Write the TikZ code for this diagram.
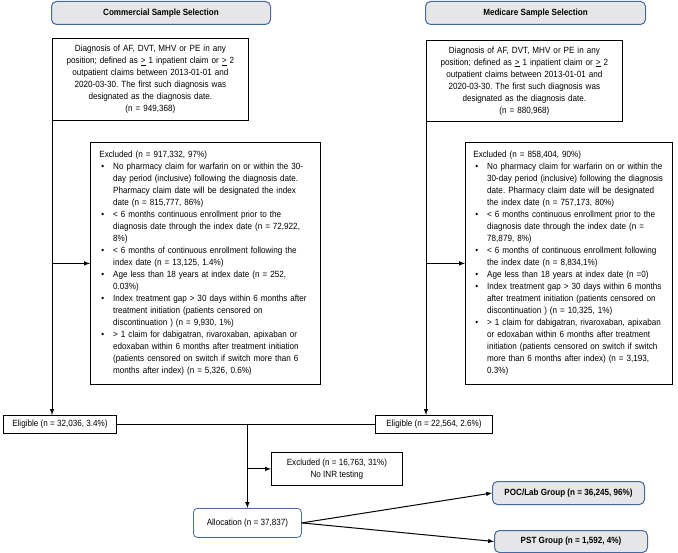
\documentclass[tikz,border=0pt]{standalone}
\usepackage{fontspec}
\setmainfont{Liberation Sans}[FakeStretch=0.9]
\usepackage{tikz}
\usetikzlibrary{positioning}

\definecolor{hdrblue}{RGB}{68,104,160}
\definecolor{hdrgray}{RGB}{230,230,232}

\newcommand{\bul}{\hspace*{2pt}\textbullet}
\frenchspacing

\begin{document}
\begin{tikzpicture}[
            x = 1pt, y = -1pt,
            >=latex,
            every node/.style = {
                font = \fontsize{9}{12}\selectfont,
                anchor = north west
            },
            hdr/.style = {
                draw = hdrblue,
                fill = hdrgray,
                line width = 1pt,
                rounded corners = 5pt,
                font = \fontsize{9}{12}\selectfont\bfseries,
                minimum width = #1,
                minimum height = 23pt,
                inner sep = 0pt
            },
            hdr/.default = 219pt,
            box/.style = {
                draw,
                line width = 0.8pt,
                inner sep = 0pt
            },
            flow/.style = {
                line width = 1pt
            }
            ]
            % headers
            \node[hdr] (ch) at (51,1) {Commercial Sample Selection};
            \node[hdr=220pt] (mh) at (425,1) {Medicare Sample Selection};

            % diagnosis boxes
            \node[box, text width=196pt, minimum height=82pt, align=center] (cd) at (52,38)
                {Diagnosis of AF, DVT, MHV or PE in any\\
                 position; defined as \underline{>} 1 inpatient claim or \underline{>} 2\\
                 outpatient claims between 2013-01-01 and\\
                 2020-03-30. The first such diagnosis was\\
                 designated as the diagnosis date.\\
                 (n = 949,368)};
            \node[box, text width=196pt, minimum height=81pt, align=center] (md) at (426,40)
                {Diagnosis of AF, DVT, MHV or PE in any\\
                 position; defined as \underline{>} 1 inpatient claim or \underline{>} 2\\
                 outpatient claims between 2013-01-01 and\\
                 2020-03-30. The first such diagnosis was\\
                 designated as the diagnosis date.\\
                 (n = 880,968)};

            % exclusion boxes
            \node[box, inner xsep=9pt, text width=212pt, minimum height=242pt, align=left] (ce) at (90,142)
                {\begin{tabular}{@{}l@{\hspace{9pt}}l@{}}
                 \multicolumn{2}{@{}l@{}}{Excluded (n = 917,332, 97\%)}\\
                 \bul & No pharmacy claim for warfarin on or within the 30-\\
                      & day period (inclusive) following the diagnosis date.\\
                      & Pharmacy claim date will be designated the index\\
                      & date (n = 815,777, 86\%)\\
                 \bul & < 6 months continuous enrollment prior to the\\
                      & diagnosis date through the index date (n = 72,922,\\
                      & 8\%)\\
                 \bul & < 6 months of continuous enrollment following the\\
                      & index date (n = 13,125, 1.4\%)\\
                 \bul & Age less than 18 years at index date (n = 252,\\
                      & 0.03\%)\\
                 \bul & Index treatment gap > 30 days within 6 months after\\
                      & treatment initiation (patients censored on\\
                      & discontinuation ) (n = 9,930, 1\%)\\
                 \bul & > 1 claim for dabigatran, rivaroxaban, apixaban or\\
                      & edoxaban within 6 months after treatment initiation\\
                      & (patients censored on switch if switch more than 6\\
                      & months after index) (n = 5,326, 0.6\%)
                 \end{tabular}};
            \node[box, inner xsep=8pt, text width=191pt, minimum height=242pt, align=left] (me) at (465,142)
                {\begin{tabular}{@{}l@{\hspace{9pt}}l@{}}
                 \multicolumn{2}{@{}l@{}}{Excluded (n = 858,404, 90\%)}\\
                 \bul & No pharmacy claim for warfarin on or within the\\
                      & 30-day period (inclusive) following the diagnosis\\
                      & date. Pharmacy claim date will be designated\\
                      & the index date (n = 757,173, 80\%)\\
                 \bul & < 6 months continuous enrollment prior to the\\
                      & diagnosis date through the index date (n =\\
                      & 78,879, 8\%)\\
                 \bul & < 6 months of continuous enrollment following\\
                      & the index date (n = 8,834,1\%)\\
                 \bul & Age less than 18 years at index date (n =0)\\
                 \bul & Index treatment gap > 30 days within 6 months\\
                      & after treatment initiation (patients censored on\\
                      & discontinuation ) (n = 10,325, 1\%)\\
                 \bul & > 1 claim for dabigatran, rivaroxaban, apixaban\\
                      & or edoxaban within 6 months after treatment\\
                      & initiation (patients censored on switch if switch\\
                      & more than 6 months after index) (n = 3,193,\\
                      & 0.3\%)
                 \end{tabular}};

            % eligible
            \node[box, minimum width=113pt, minimum height=18pt] (cel) at (3,415) {Eligible (n = 32,036, 3.4\%)};
            \node[box, minimum width=117pt, minimum height=18pt] (mel) at (375,415) {Eligible (n = 22,564, 2.6\%)};

            % pooled part
            \node[box, minimum width=131pt, minimum height=33pt, align=center] (ie) at (271,452)
                {Excluded (n = 16,763, 31\%)\\No INR testing};
            \node[box, draw=hdrblue, rounded corners=4pt, minimum width=108pt, minimum height=29pt] (al) at (193,508)
                {Allocation (n = 37,837)};
            \node[hdr=152pt] (poc) at (492,481) {POC/Lab Group (n = 36,245, 96\%)};
            \node[hdr=153pt, minimum height=22pt] (pst) at (494,530) {PST Group (n = 1,592, 4\%)};

            \draw[flow, ->] (cd.south west) -- (cd.south west |- cel.north);
            \draw[flow, ->] (cd.south west |- ce.west) -- (ce.west);
            \draw[flow, ->] (md.south west) -- (md.south west |- mel.north);
            \draw[flow, ->] (md.south west |- me.west) -- (me.west);
            \draw[flow] (cel.east) -- (mel.west);
            \draw[flow, ->] (al.north |- cel.east) -- (al.north);
            \draw[flow, ->] (al.north |- ie.west) -- (ie.west);
            \draw[flow, ->] (al.east) -- (poc.west);
            \draw[flow, ->] (al.east) -- (pst.west);

            \useasboundingbox (0,0) rectangle (678,553);
        \end{tikzpicture}
\end{document}
